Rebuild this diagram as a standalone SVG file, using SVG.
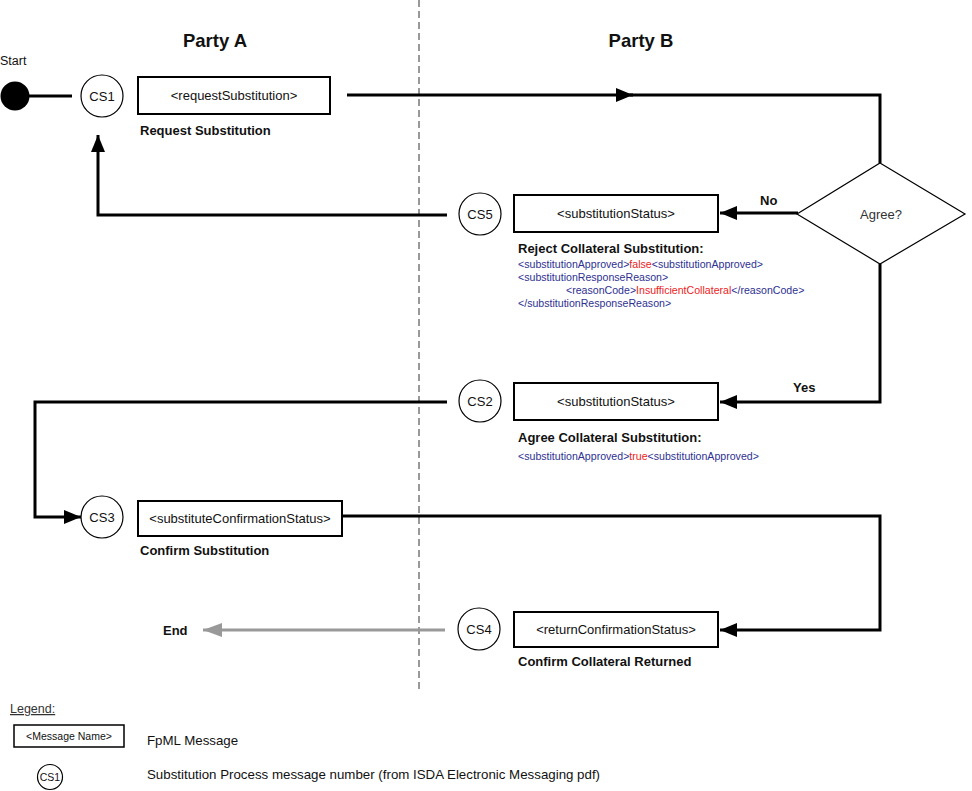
<svg xmlns="http://www.w3.org/2000/svg" width="972" height="791" viewBox="0 0 972 791">
<style>
text{font-family:"Liberation Sans",Arial,sans-serif;fill:#111}
.box{fill:#fff;stroke:#000;stroke-width:2}
.circ{fill:#fff;stroke:#000;stroke-width:1.2}
.lbl{font-size:13px;text-anchor:middle}
.cs{font-size:13px;text-anchor:middle}
.desc{font-size:13px;font-weight:bold}
.hdr{font-size:18.5px;font-weight:bold;text-anchor:middle}
.blue{font-size:10.6px;fill:#2e3192}
.red{fill:#ed1c24}
.conn{fill:none;stroke:#000;stroke-width:3}
.grey{fill:none;stroke:#999;stroke-width:3}
</style>
<defs>
<marker id="ah" markerUnits="userSpaceOnUse" markerWidth="18" markerHeight="14" refX="17" refY="7" orient="auto"><path d="M0,0 L17,7 L0,14 z" fill="#000"/></marker>
<marker id="ahg" markerUnits="userSpaceOnUse" markerWidth="20" markerHeight="14" refX="19" refY="7" orient="auto"><path d="M0,0 L19,7 L0,14 z" fill="#999"/></marker>
</defs>

<line x1="419" y1="0" x2="419" y2="693" stroke="#333" stroke-width="1" stroke-dasharray="7,4"/>
<text class="hdr" x="215" y="47">Party A</text>
<text class="hdr" x="641" y="47">Party B</text>

<g id="connectors">
<line class="conn" x1="28" y1="96" x2="72" y2="96" stroke-width="2.5"/>
<path class="conn" d="M347,95 H633" marker-end="url(#ah)"/>
<path class="conn" d="M630,95 H880 V163"/>
<path class="conn" d="M798,213 H720" marker-end="url(#ah)"/>
<path class="conn" d="M447,215 H98 V135" marker-end="url(#ah)"/>
<path class="conn" d="M880,264 V402 H720" marker-end="url(#ah)"/>
<path class="conn" d="M447,402 H35 V517 H81" marker-end="url(#ah)"/>
<path class="conn" d="M342,516 H880 V630 H720" marker-end="url(#ah)"/>
<path class="grey" d="M445,630 H203" marker-end="url(#ahg)"/>
<text class="desc" x="760" y="205">No</text>
<text class="desc" x="793" y="392">Yes</text>
</g>

<g id="start">
<circle cx="15" cy="96" r="14.5" fill="#000"/>
<text x="0" y="65" font-size="12.5">Start</text>
</g>

<g id="cs1">
<circle class="circ" cx="102" cy="96" r="21"/>
<text class="cs" x="102" y="101">CS1</text>
</g>
<g id="requestSubstitution">
<rect class="box" x="138" y="77" width="192" height="37"/>
<text class="lbl" x="234" y="100">&lt;requestSubstitution&gt;</text>
<text class="desc" x="140" y="135">Request Substitution</text>
</g>

<g id="agree">
<polygon points="880,163 965,214 880,264 797,214" fill="#fff" stroke="#000" stroke-width="1.2"/>
<text class="lbl" x="881" y="219" style="fill:#333">Agree?</text>
</g>

<g id="cs5">
<circle class="circ" cx="480" cy="214" r="21"/>
<text class="cs" x="480" y="219">CS5</text>
</g>
<g id="substitutionStatusReject">
<rect class="box" x="514" y="195" width="204" height="37"/>
<text class="lbl" x="616" y="218">&lt;substitutionStatus&gt;</text>
<text class="desc" x="518" y="253">Reject Collateral Substitution:</text>
<text class="blue" x="518" y="268">&lt;substitutionApproved&gt;<tspan class="red">false</tspan>&lt;substitutionApproved&gt;</text>
<text class="blue" x="518" y="281">&lt;substitutionResponseReason&gt;</text>
<text class="blue" x="566" y="294">&lt;reasonCode&gt;<tspan class="red">InsufficientCollateral</tspan>&lt;/reasonCode&gt;</text>
<text class="blue" x="518" y="307">&lt;/substitutionResponseReason&gt;</text>
</g>

<g id="cs2">
<circle class="circ" cx="480" cy="401" r="21"/>
<text class="cs" x="480" y="406">CS2</text>
</g>
<g id="substitutionStatusAgree">
<rect class="box" x="514" y="383" width="204" height="37"/>
<text class="lbl" x="616" y="406">&lt;substitutionStatus&gt;</text>
<text class="desc" x="518" y="442">Agree Collateral Substitution:</text>
<text class="blue" x="518" y="460">&lt;substitutionApproved&gt;<tspan class="red">true</tspan>&lt;substitutionApproved&gt;</text>
</g>

<g id="cs3">
<circle class="circ" cx="102" cy="517" r="21"/>
<text class="cs" x="102" y="522">CS3</text>
</g>
<g id="substituteConfirmationStatus">
<rect class="box" x="138" y="501" width="204" height="35"/>
<text class="lbl" x="240" y="523">&lt;substituteConfirmationStatus&gt;</text>
<text class="desc" x="140" y="555">Confirm Substitution</text>
</g>

<g id="cs4">
<circle class="circ" cx="479" cy="629" r="21"/>
<text class="cs" x="479" y="634">CS4</text>
</g>
<g id="returnConfirmationStatus">
<rect class="box" x="514" y="612" width="204" height="35"/>
<text class="lbl" x="616" y="634">&lt;returnConfirmationStatus&gt;</text>
<text class="desc" x="518" y="666">Confirm Collateral Returned</text>
</g>

<g id="end">
<text class="desc" x="163" y="635">End</text>
</g>

<g id="legend">
<text x="10" y="713" font-size="12.5" text-decoration="underline" style="fill:#333">Legend:</text>
<rect x="14" y="725" width="110" height="22" fill="#fff" stroke="#000" stroke-width="1.5"/>
<text x="69" y="740" font-size="10.5" text-anchor="middle">&lt;Message Name&gt;</text>
<text x="147" y="745" font-size="13.3">FpML Message</text>
<circle class="circ" cx="50" cy="777" r="12.5"/>
<text x="50" y="781" font-size="10.5" text-anchor="middle">CS1</text>
<text x="147" y="779" font-size="13.3">Substitution Process message number (from ISDA Electronic Messaging pdf)</text>
</g>
</svg>
